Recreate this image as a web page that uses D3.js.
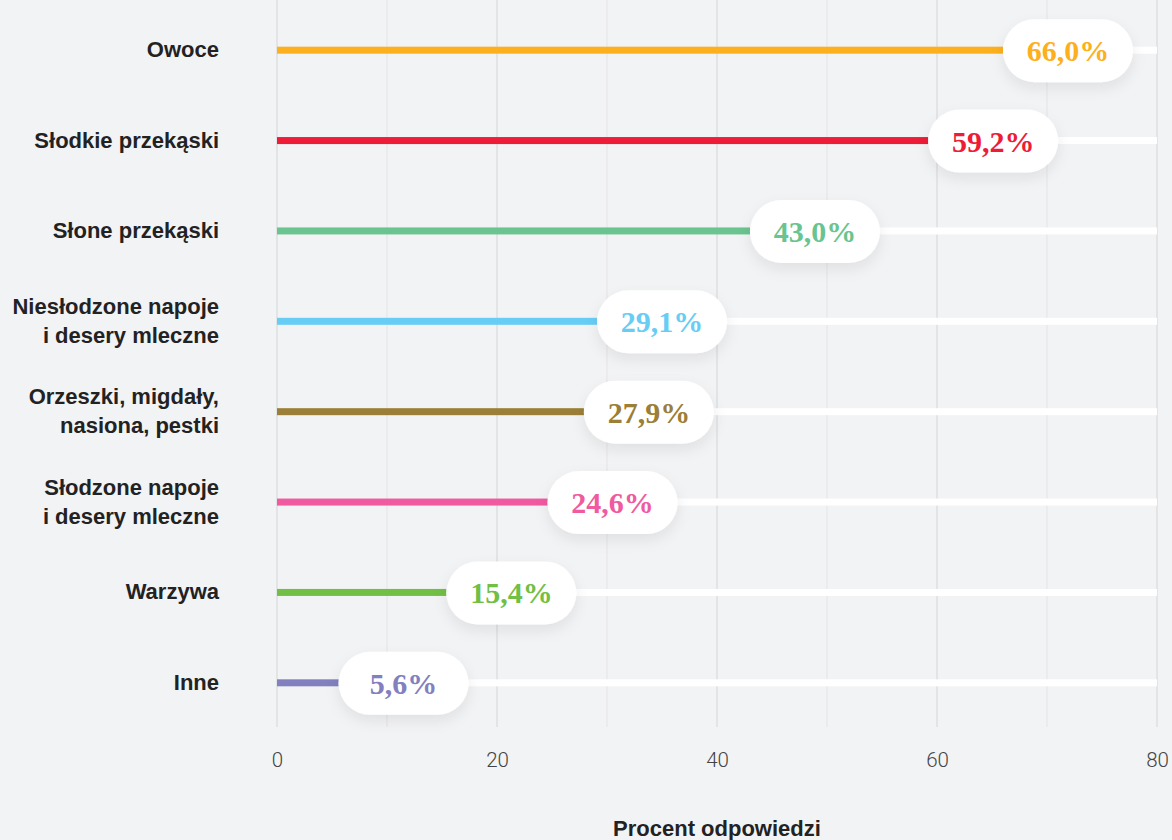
<!DOCTYPE html>
<html lang="pl">
<head>
<meta charset="UTF-8">
<title>Procent odpowiedzi</title>
<script src="https://cdn.jsdelivr.net/npm/d3@7"></script>
<style>
  html, body { margin: 0; padding: 0; background: #f2f3f5; }
  svg { display: block; }
</style>
</head>
<body>
<div id="grafica"></div>
<script>
// dane
const kategorie = [
  ['Owoce'],
  ['Słodkie przekąski'],
  ['Słone przekąski'],
  ['Niesłodzone napoje', 'i desery mleczne'],
  ['Orzeszki, migdały,', 'nasiona, pestki'],
  ['Słodzone napoje', 'i desery mleczne'],
  ['Warzywa'],
  ['Inne']
]
const wartosci = [66.0, 59.2, 43.0, 29.1, 27.9, 24.6, 15.4, 5.6]
const kolory = ['#fdb01d', '#ee1c36', '#69c48f', '#67cdf4', '#9b7e37', '#f05aa0', '#71bf44', '#8380bf']
const ticks = [0, 20, 40, 60, 80]
const gridTicks = [0, 10, 20, 30, 40, 50, 60, 70, 80]

const ancho_total = 1172
const alto_total = 840

const svg = d3.select('#grafica')
  .append('svg')
  .attr('width', ancho_total)
  .attr('height', alto_total)

const defs = svg.append('defs')
const f = defs.append('filter').attr('id', 'sombra')
  .attr('x', '-30%').attr('y', '-40%').attr('width', '160%').attr('height', '200%')
f.append('feDropShadow')
  .attr('dx', 0).attr('dy', 6).attr('stdDeviation', 7)
  .attr('flood-color', '#000').attr('flood-opacity', 0.08)

const x = d3.scaleLinear().domain([0, 80]).range([277, 1157])
const y = d3.scaleBand().domain(d3.range(kategorie.length)).range([5, 728])
const yc = i => y(i) + y.bandwidth() / 2

// rejilla
svg.append('g')
  .selectAll('line')
  .data(gridTicks)
  .join('line')
  .attr('x1', d => x(d)).attr('x2', d => x(d))
  .attr('y1', 0).attr('y2', 727)
  .attr('stroke', d => d % 20 === 0 ? '#d9dadc' : '#e6e7e9')
  .attr('stroke-width', 1.2)

// eje x
const xAxis = svg.append('g')
  .attr('transform', 'translate(0, 752.5)')
  .call(d3.axisBottom(x).tickValues(ticks).tickSize(0).tickPadding(0))
xAxis.select('.domain').remove()
xAxis.selectAll('text')
  .attr('font-family', 'Roboto, Liberation Sans, Arial, sans-serif')
  .attr('font-weight', 300)
  .attr('font-size', 20.5)
  .attr('fill', '#444')

svg.append('text')
  .attr('x', (x(0) + x(80)) / 2)
  .attr('y', 836)
  .attr('text-anchor', 'middle')
  .attr('font-family', 'Liberation Sans, Arial, sans-serif')
  .attr('font-weight', 'bold')
  .attr('font-size', 22)
  .attr('fill', '#222')
  .text('Procent odpowiedzi')

const filas = svg.append('g')
  .selectAll('g')
  .data(wartosci)
  .join('g')

// pista blanca
filas.append('rect')
  .attr('x', d => x(d))
  .attr('y', (d, i) => yc(i) - 3.5)
  .attr('width', d => x(80) - x(d))
  .attr('height', 7)
  .attr('fill', '#fff')

// barra
filas.append('rect')
  .attr('x', x(0))
  .attr('y', (d, i) => yc(i) - 3.5)
  .attr('width', d => x(d) - x(0))
  .attr('height', 7)
  .attr('fill', (d, i) => kolory[i])

// etiqueta
filas.append('rect')
  .attr('x', d => x(d))
  .attr('y', (d, i) => yc(i) - 31)
  .attr('width', 130)
  .attr('height', 63)
  .attr('rx', 31.5)
  .attr('fill', '#fff')
  .attr('filter', 'url(#sombra)')

filas.append('text')
  .attr('x', d => x(d) + 65)
  .attr('y', (d, i) => yc(i) + 11)
  .attr('text-anchor', 'middle')
  .attr('font-family', 'Liberation Serif, DejaVu Serif, serif')
  .attr('font-weight', 'bold')
  .attr('font-size', 30)
  .attr('fill', (d, i) => kolory[i])
  .text(d => d.toFixed(1).replace('.', ',') + '%')

// categorias
const cat = svg.append('g')
  .selectAll('text')
  .data(kategorie)
  .join('text')
  .attr('text-anchor', 'end')
  .attr('font-family', 'Liberation Sans, Arial, sans-serif')
  .attr('font-weight', 'bold')
  .attr('font-size', 22)
  .attr('fill', '#222')
  .attr('transform', (d, i) => `translate(219, ${yc(i) + 7 - (d.length - 1) * 14.5})`)

cat.selectAll('tspan')
  .data(d => d)
  .join('tspan')
  .attr('x', 0)
  .attr('dy', (d, j) => j === 0 ? 0 : 29)
  .text(d => d)
</script>
</body>
</html>
